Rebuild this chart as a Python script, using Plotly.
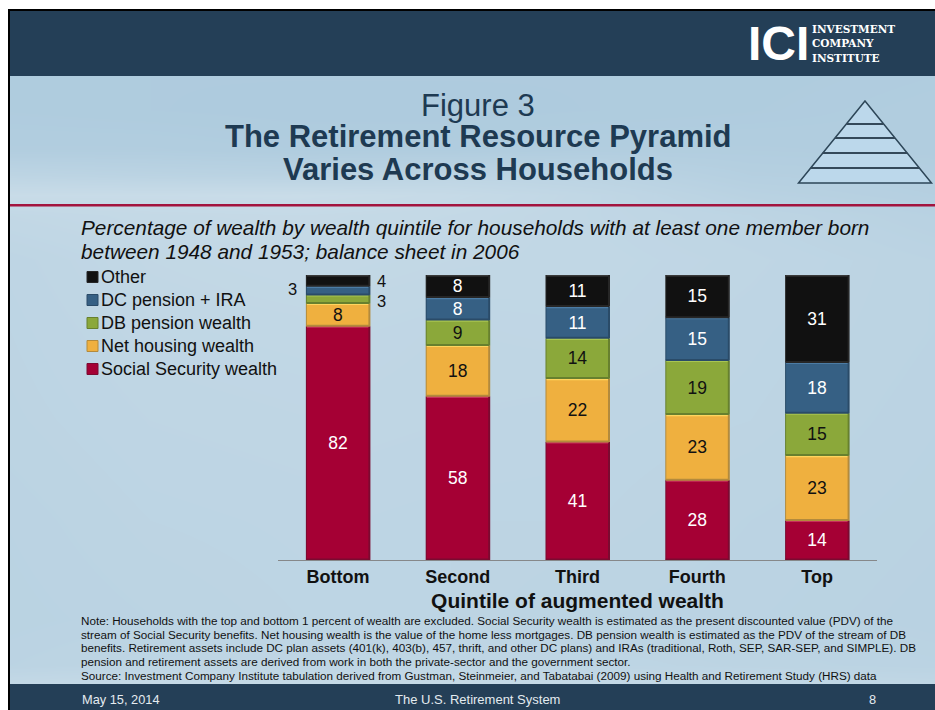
import plotly.graph_objects as go

W, H = 935, 710

# Share of wealth by quintile (percent, as labelled)
quintiles = ["Bottom", "Second", "Third", "Fourth", "Top"]
social_security = [82, 58, 41, 28, 14]
net_housing = [8, 18, 22, 23, 23]
db_pension = [3, 9, 14, 19, 15]
dc_pension_ira = [3, 8, 11, 15, 18]
other = [4, 8, 11, 15, 31]

series_names = ["Social Security wealth", "Net housing wealth", "DB pension wealth",
                "DC pension + IRA", "Other"]
series_values = [social_security, net_housing, db_pension, dc_pension_ira, other]
fill_colors = ["#a50034", "#efb03f", "#8ba83a", "#366084", "#111111"]
top_edges = ["#c8305c", "#ffd55e", "#a8c552", "#4c7ca5", "#3a3a3a"]
low_edges = ["#7b0a30", "#b38a3c", "#67802e", "#2a4b68", "#262626"]
label_colors = ["white", "#111111", "#111111", "white", "white"]

note_lines = [
    "Note: Households with the top and bottom 1 percent of wealth are excluded. Social Security wealth is estimated as the present discounted value (PDV) of the",
    "stream of Social Security benefits. Net housing wealth is the value of the home less mortgages. DB pension wealth is estimated as the PDV of the stream of DB",
    "benefits. Retirement assets include DC plan assets (401(k), 403(b), 457, thrift, and other DC plans) and IRAs (traditional, Roth, SEP, SAR-SEP, and SIMPLE). DB",
    "pension and retirement assets are derived from work in both the private-sector and the government sector.",
    "Source: Investment Company Institute tabulation derived from Gustman, Steinmeier, and Tabatabai (2009) using Health and Retirement Study (HRS) data",
]

# Lightness of the slide backdrop, sampled on a coarse grid from top to bottom
backdrop_x = [10, 150, 300, 450, 600, 750, 935]
backdrop_y = [76, 110, 150, 175, 195, 215, 260, 330, 420, 520, 620, 665, 684]
backdrop_z = [
    [.16, .14, .14, .14, .14, .15, .18],
    [.16, .14, .12, .12, .14, .16, .20],
    [.22, .22, .18, .18, .22, .22, .20],
    [.50, .45, .42, .50, .45, .30, .26],
    [.78, .78, .80, .72, .58, .40, .30],
    [.62, .68, .70, .66, .58, .50, .38],
    [.52, .62, .66, .62, .60, .55, .46],
    [.50, .58, .60, .56, .58, .52, .46],
    [.48, .54, .56, .54, .52, .50, .44],
    [.44, .50, .52, .50, .50, .46, .42],
    [.42, .46, .50, .50, .46, .44, .40],
    [.46, .52, .55, .55, .52, .48, .44],
    [.66, .70, .72, .72, .68, .62, .58],
]


def px(x):
    return x / W


def py(y):
    return 1 - y / H


def page_text(x, y, text, size, color="#111111", anchor="left", bold=False, italic=False,
              family="Liberation Sans"):
    if bold:
        text = f"<b>{text}</b>"
    if italic:
        text = f"<i>{text}</i>"
    return dict(x=px(x), y=py(y), xref="paper", yref="paper", text=text, showarrow=False,
                xanchor=anchor, yanchor="middle", borderpad=0,
                font=dict(size=size, color=color, family=family))


def page_rect(x0, y0, x1, y1, fill, layer="below", line_color=None, line_width=0):
    return dict(type="rect", xref="paper", yref="paper", x0=px(x0), x1=px(x1), y0=py(y0), y1=py(y1),
                fillcolor=fill, layer=layer, line=dict(width=line_width, color=line_color or fill))


fig = go.Figure()

# Backdrop sits on the first subplot so the chart subplot draws over it
fig.add_trace(go.Heatmap(
    x=backdrop_x, y=backdrop_y, z=backdrop_z, zmin=0, zmax=1, zsmooth="best",
    colorscale=[[0, "#a9c8dc"], [1, "#d1e1eb"]], showscale=False, hoverinfo="skip",
    xaxis="x", yaxis="y",
))

for k, (name, values) in enumerate(zip(series_names, series_values)):
    labels = ["" if (i == 0 and v < 5) else str(v) for i, v in enumerate(values)]
    fig.add_trace(go.Bar(
        name=name, x=quintiles, y=values, text=labels, textposition="inside",
        insidetextanchor="middle", textangle=0, constraintext="none",
        textfont=dict(size=17.5, color=label_colors[k], family="Liberation Sans"),
        marker=dict(color=fill_colors[k], line=dict(width=0)),
        showlegend=False, xaxis="x2", yaxis="y2",
    ))

# Each column is drawn at its share of the column total
totals = [sum(col) for col in zip(*series_values)]
half = 0.263
shapes = []
for i, total in enumerate(totals):
    base = 0
    for k, values in enumerate(series_values):
        top = base + values[i] / total * 100
        common = dict(xref="x2", yref="y2", layer="above")
        for x0, x1, y0, y1, c, w in [
            (i - half, i + half, top - 0.2, top - 0.2, top_edges[k], 2),
            (i - half, i + half, base + 0.2, base + 0.2, low_edges[k], 2),
            (i + half, i + half, base, top, low_edges[k], 2),
            (i - half, i - half, base, top, low_edges[k], 1),
        ]:
            shapes.append(dict(type="line", x0=x0, x1=x1, y0=y0, y1=y1,
                               line=dict(color=c, width=w), **common))
        base = top

# Slide frame, header and footer
chrome = [
    page_rect(8, 9, W, H, "#000000"),
    page_rect(10, 11, W, 76, "#243f57"),
    page_rect(10, 684, W, H, "#243f57"),
    page_rect(10, 204, W, 206.5, "#a3143e", layer="above"),
]

# Pyramid emblem beside the title
apex_x, apex_y, base_y, base_half = 865, 101, 183, 66.5
tri = (f"M {px(apex_x)} {py(apex_y)} L {px(apex_x + base_half)} {py(base_y)} "
       f"L {px(apex_x - base_half)} {py(base_y)} Z")
chrome.append(dict(type="path", path=tri, xref="paper", yref="paper", layer="above",
                   fillcolor="#bcd8eb", line=dict(color="#2d4658", width=1.5)))
for ry in [124, 138, 153, 168]:
    span = (ry - apex_y) / (base_y - apex_y) * base_half
    chrome.append(dict(type="line", xref="paper", yref="paper", layer="above",
                       x0=px(apex_x - span), x1=px(apex_x + span), y0=py(ry), y1=py(ry),
                       line=dict(color="#34495a", width=2)))

# Legend, listed from the top of the stack down
legend_rows = list(zip(series_names, fill_colors, low_edges))[::-1]
legend_y = [277, 300, 323, 346, 369]
for (name, fill, edge), ly in zip(legend_rows, legend_y):
    chrome.append(page_rect(87, ly - 5.5, 98, ly + 5.5, fill, layer="above",
                            line_color=edge, line_width=1))

notes = [
    page_text(478, 105, "Figure 3", 31, "#1e3a52", "center"),
    page_text(478, 137, "The Retirement Resource Pyramid", 31, "#1e3a52", "center", bold=True),
    page_text(478, 169, "Varies Across Households", 31, "#1e3a52", "center", bold=True),
    page_text(80, 227, "Percentage of wealth by wealth quintile for households with at least one member born",
              20.8, "#111111", italic=True),
    page_text(80, 252, "between 1948 and 1953; balance sheet in 2006", 20.8, "#111111", italic=True),
    page_text(81, 699, "May 15, 2014", 12.8, "#e4ebf0"),
    page_text(477, 699, "The U.S. Retirement System", 13, "#e4ebf0", "center"),
    page_text(872, 699, "8", 12.8, "#e4ebf0", "center"),
    page_text(778, 43, "ICI", 48, "white", "center", bold=True),
    page_text(811, 29, "INVESTMENT", 10.5, "white", bold=True, family="DejaVu Serif"),
    page_text(811, 43, "COMPANY", 10.5, "white", bold=True, family="DejaVu Serif"),
    page_text(811, 58, "INSTITUTE", 10.5, "white", bold=True, family="DejaVu Serif"),
]
for (name, _, _), ly in zip(legend_rows, legend_y):
    notes.append(page_text(100, ly, name, 18, "#111111"))
for line, ly in zip(note_lines, [620, 634, 647, 661, 675]):
    notes.append(page_text(80, ly, line, 11.7, "#111111"))

# Slim segments of the Bottom column carry their labels outside the bar
def column_mid(i, k):
    below = sum(series_values[j][i] for j in range(k))
    return (below + series_values[k][i] / 2) / totals[i] * 100


for k, side, nudge in [(3, "right", 2), (2, "left", -2), (4, "left", 0)]:
    notes.append(dict(
        x=0, y=column_mid(0, k), xref="x2", yref="y2", text=str(series_values[k][0]),
        showarrow=False, xanchor=side, yanchor="middle",
        xshift=-39 if side == "right" else 37, yshift=nudge,
        font=dict(size=16.5, color="#111111", family="Liberation Sans"),
    ))

fig.update_layout(
    width=W, height=H, autosize=False, margin=dict(l=0, r=0, t=0, b=0),
    paper_bgcolor="white", plot_bgcolor="rgba(0,0,0,0)",
    barmode="stack", barnorm="percent", bargap=0.474, showlegend=False,
    font=dict(family="Liberation Sans"),
    xaxis=dict(domain=[px(10), 1], range=[10, 935], visible=False),
    yaxis=dict(domain=[py(684), py(76)], range=[684, 76], visible=False),
    xaxis2=dict(
        domain=[px(278), px(877)], anchor="y2", type="category", categoryorder="array",
        categoryarray=quintiles, range=[-0.5, 4.5], showgrid=False, zeroline=False,
        showline=True, linecolor="#86888a", linewidth=1, ticks="", ticklabelstandoff=0,
        tickfont=dict(size=18, color="#111111", family="Liberation Sans", weight="bold"),
        title=dict(text="<b>Quintile of augmented wealth</b>", standoff=7,
                   font=dict(size=21, color="#111111", family="Liberation Sans")),
    ),
    yaxis2=dict(domain=[py(560), py(275)], anchor="x2", range=[0, 100], visible=False),
    shapes=chrome + shapes,
    annotations=notes,
)

fig.write_html("out.html", config=dict(displayModeBar=False))
